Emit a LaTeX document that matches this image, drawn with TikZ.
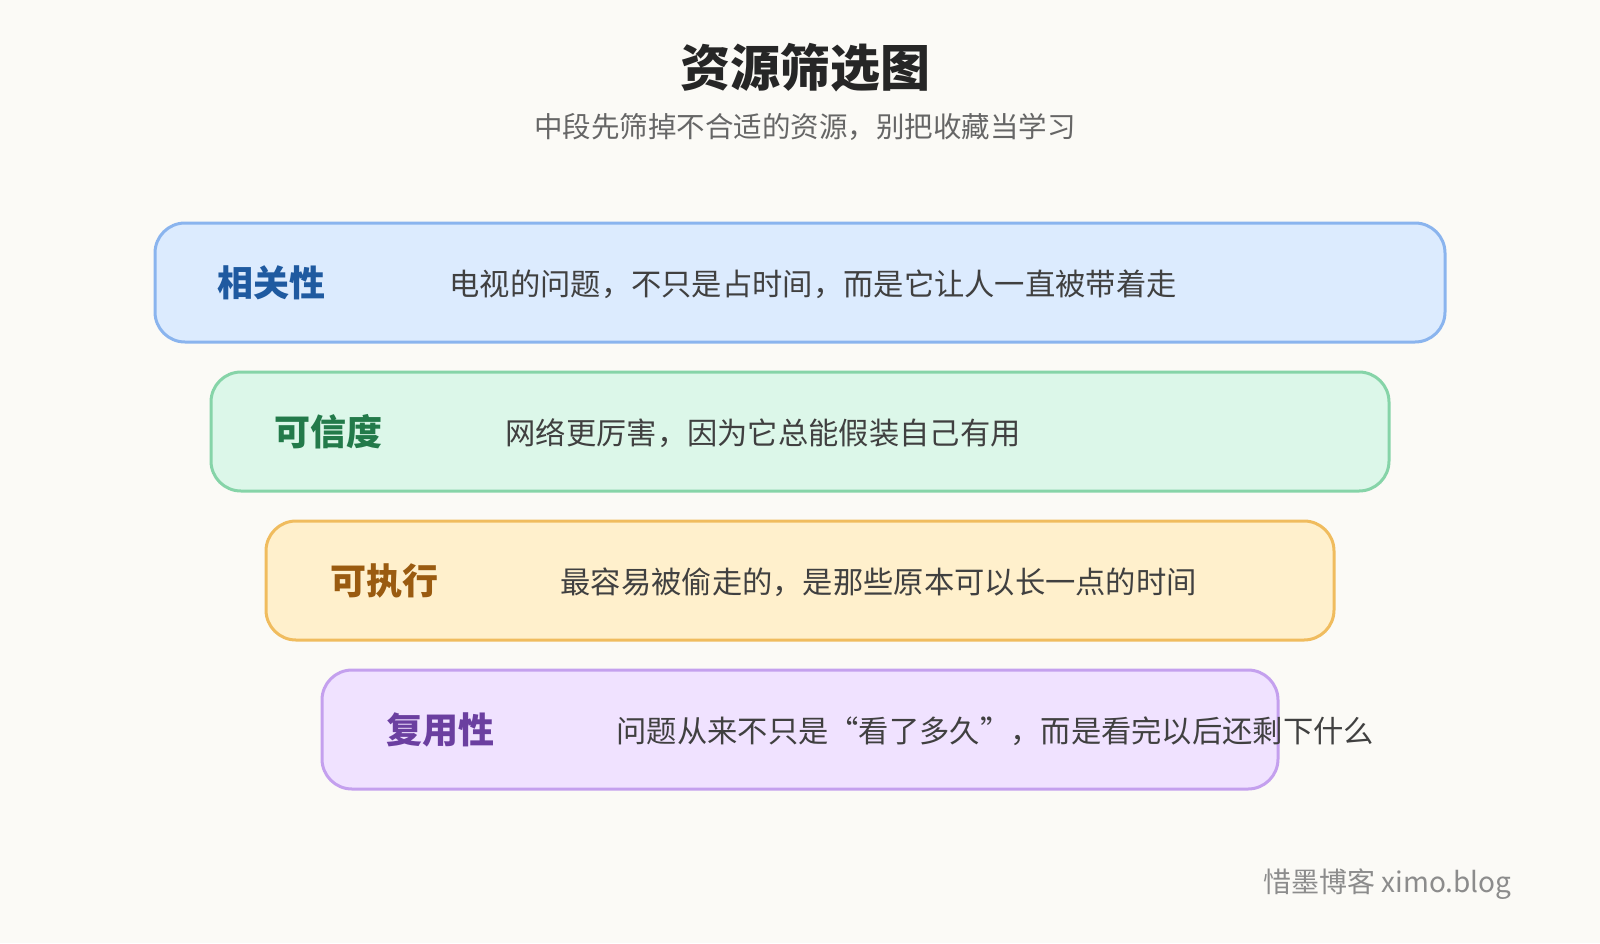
\documentclass[tikz,border=0pt]{standalone}
\usepackage{fontspec}
\setmainfont{Noto Sans CJK SC}
\begin{document}
\begin{tikzpicture}[x=1pt,y=-1pt,
  bx/.style={draw,line width=3pt,rounded corners=30pt},
  lab/.style={anchor=west,font=\fontsize{36}{40}\selectfont\bfseries},
  desc/.style={anchor=west,text=black!75,font=\fontsize{30.3}{34}\selectfont}]
\fill[color={rgb,255:red,251;green,250;blue,246}] (0,0) rectangle (1600,943);
\useasboundingbox (0,0) rectangle (1600,943);
\definecolor{f1}{HTML}{DCEBFE}\definecolor{b1}{HTML}{8AB4EE}\definecolor{t1}{HTML}{1F5AA0}
\definecolor{f2}{HTML}{DCF7E9}\definecolor{b2}{HTML}{86D4A8}\definecolor{t2}{HTML}{237A4A}
\definecolor{f3}{HTML}{FFF0CC}\definecolor{b3}{HTML}{F0BC5E}\definecolor{t3}{HTML}{9A5B10}
\definecolor{f4}{HTML}{F0E2FF}\definecolor{b4}{HTML}{C4A0EE}\definecolor{t4}{HTML}{6B3FA0}
\node[font=\fontsize{50}{54}\selectfont\bfseries,text=black!85] (title) at (805,68) {资源筛选图};
\node[font=\fontsize{28.5}{32}\selectfont,text=black!60] (sub) at (805,127) {中段先筛掉不合适的资源，别把收藏当学习};
\draw[bx,fill=f1,draw=b1] (155,223) rectangle (1445,342);
\node[lab,text=t1] (l1) at (214,283) {相关性};
\node[desc] (d1) at (446,284) {电视的问题，不只是占时间，而是它让人一直被带着走};
\draw[bx,fill=f2,draw=b2] (211,372) rectangle (1389,491);
\node[lab,text=t2] (l2) at (271,432) {可信度};
\node[desc] (d2) at (502,433) {网络更厉害，因为它总能假装自己有用};
\draw[bx,fill=f3,draw=b3] (266,521) rectangle (1334,640);
\node[lab,text=t3] (l3) at (327,581) {可执行};
\node[desc] (d3) at (557,582) {最容易被偷走的，是那些原本可以长一点的时间};
\draw[bx,fill=f4,draw=b4] (322,670) rectangle (1278,789);
\node[lab,text=t4] (l4) at (383,730) {复用性};
\node[desc] (d4) at (613,731) {问题从来不只是“看了多久”，而是看完以后还剩下什么};
\node[anchor=east,text=black!45,font=\fontsize{28}{32}\selectfont] (wm) at (1515,884) {惜墨博客 ximo.blog};
\end{tikzpicture}
\end{document}
